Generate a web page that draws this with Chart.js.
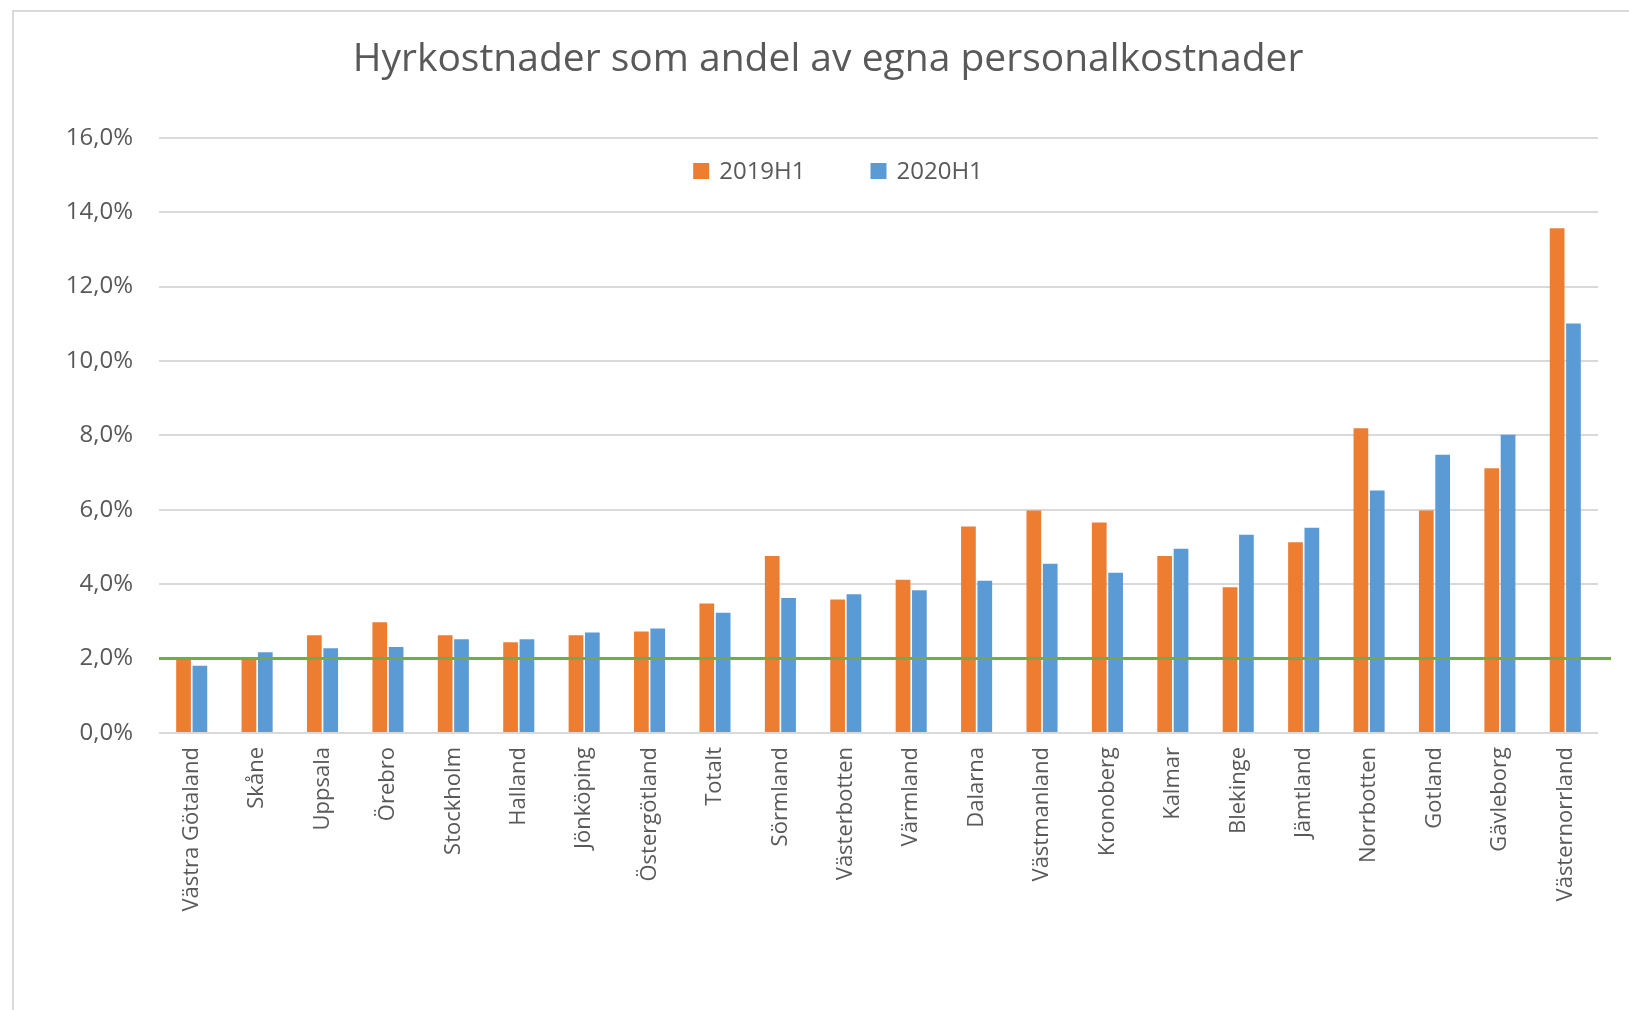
<!DOCTYPE html>
<html>
<head>
<meta charset="utf-8">
<script src="https://cdn.jsdelivr.net/npm/chart.js@4.4.1/dist/chart.umd.min.js"></script>
<style>
    body { margin: 0; background: #ffffff; }
    #wrap { position: relative; width: 1629px; height: 1010px; }
    #ram {
        position: absolute; left: 12px; top: 10px; right: 0; bottom: 0;
        border-top: 2px solid #d9d9d9; border-left: 2px solid #d9d9d9;
        pointer-events: none;
    }
</style>
</head>
<body>
<div id="wrap">
    <canvas id="hyraChart" width="1629" height="1010"></canvas>
    <div id="ram"></div>
</div>
<script>
// Data
const regioner = ['Västra Götaland', 'Skåne', 'Uppsala', 'Örebro', 'Stockholm', 'Halland', 'Jönköping',
    'Östergötland', 'Totalt', 'Sörmland', 'Västerbotten', 'Värmland', 'Dalarna', 'Västmanland',
    'Kronoberg', 'Kalmar', 'Blekinge', 'Jämtland', 'Norrbotten', 'Gotland', 'Gävleborg', 'Västernorrland'];
const varden2019 = [2.0, 1.98, 2.63, 2.98, 2.63, 2.44, 2.63, 2.73, 3.48, 4.76, 3.59, 4.12, 5.55, 5.98,
    5.66, 4.76, 3.92, 5.13, 8.19, 5.98, 7.12, 13.57];
const varden2020 = [1.81, 2.17, 2.28, 2.31, 2.52, 2.52, 2.70, 2.81, 3.23, 3.63, 3.73, 3.84, 4.09, 4.55,
    4.31, 4.95, 5.33, 5.52, 6.52, 7.48, 8.02, 11.01];
const yTicks = [0, 2, 4, 6, 8, 10, 12, 14, 16];
const malniva = 2.0;

const textFarg = '#595959';

// Grön referenslinje vid 2,0 %
const malLinje = {
    id: 'malLinje',
    afterDatasetsDraw(chart) {
        const ctx = chart.ctx;
        const y = chart.scales.y.getPixelForValue(malniva);
        ctx.save();
        ctx.strokeStyle = '#70ad47';
        ctx.lineWidth = 3;
        ctx.beginPath();
        ctx.moveTo(chart.chartArea.left, y);
        ctx.lineTo(chart.chartArea.right + 13, y);
        ctx.stroke();
        ctx.restore();
    }
};

// Legend inne i diagramytan, överst
const legendInne = {
    id: 'legendInne',
    afterDraw(chart) {
        const ctx = chart.ctx;
        const ruta = 16, glapp = 10, mellan = 65;
        const mittX = 838, mittY = 171;
        ctx.save();
        ctx.font = '400 24px "Open Sans"';
        ctx.textBaseline = 'middle';
        const bredder = chart.data.datasets.map(ds => ruta + glapp + ctx.measureText(ds.label).width);
        const total = bredder.reduce((a, b) => a + b, 0) + mellan * (bredder.length - 1);
        let x = mittX - total / 2;
        chart.data.datasets.forEach((ds, i) => {
            ctx.fillStyle = ds.backgroundColor;
            ctx.fillRect(x, mittY - ruta / 2, ruta, ruta);
            ctx.fillStyle = textFarg;
            ctx.fillText(ds.label, x + ruta + glapp, mittY + 1);
            x += bredder[i] + mellan;
        });
        ctx.restore();
    }
};

const ctx = document.getElementById('hyraChart').getContext('2d');
const hyraChart = new Chart(ctx, {
    type: 'bar',
    data: {
        labels: regioner,
        datasets: [{
            label: '2019H1',
            data: varden2019,
            backgroundColor: '#ed7d31',
            categoryPercentage: 0.5,
            barPercentage: 0.9
        }, {
            label: '2020H1',
            data: varden2020,
            backgroundColor: '#5b9bd5',
            categoryPercentage: 0.5,
            barPercentage: 0.9
        }]
    },
    options: {
        responsive: false,
        animation: false,
        layout: { padding: { left: 58, right: 31, top: 0, bottom: 0 } },
        plugins: {
            title: {
                display: true,
                text: 'Hyrkostnader som andel av egna personalkostnader',
                color: textFarg,
                font: { family: 'Open Sans', size: 39, weight: '400' },
                padding: { top: 36, bottom: 55 }
            },
            legend: { display: false },
            tooltip: { enabled: false }
        },
        scales: {
            x: {
                grid: { display: false },
                border: { display: false },
                ticks: {
                    color: textFarg,
                    font: { family: 'Open Sans', size: 22 },
                    minRotation: 90,
                    maxRotation: 90,
                    autoSkip: false,
                    padding: 6
                },
                afterFit(scale) { scale.height = 277; }
            },
            y: {
                min: 0,
                max: 16,
                afterBuildTicks(scale) {
                    scale.ticks = yTicks.map(v => ({ value: v }));
                },
                grid: { color: '#d9d9d9', lineWidth: 2, drawTicks: false },
                border: { display: false },
                ticks: {
                    color: textFarg,
                    font: { family: 'Open Sans', size: 24 },
                    padding: 26,
                    callback: v => v.toFixed(1).replace('.', ',') + '%'
                },
                afterFit(scale) { scale.width = 101; }
            }
        }
    },
    plugins: [malLinje, legendInne]
});
</script>
</body>
</html>
